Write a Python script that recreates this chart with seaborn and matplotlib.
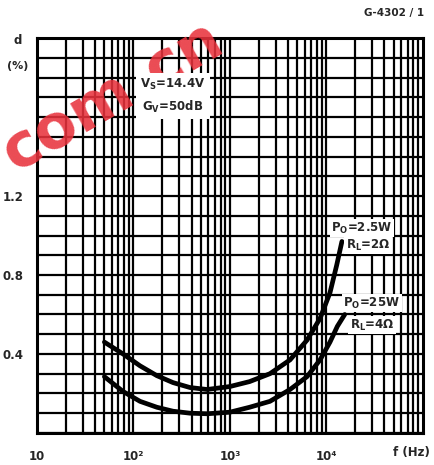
import numpy as np
import pandas as pd
import matplotlib
matplotlib.use("Agg")
import matplotlib.pyplot as plt
import seaborn as sns
from matplotlib.ticker import FixedLocator, MultipleLocator, NullFormatter

# ocitane vrijednosti s grafa (f u Hz, d u %)
freq_2ohm = [50, 78, 117, 175, 257, 385, 580, 1000, 1600, 2600, 4200, 6300, 8600, 10900, 12800, 14500]
d_2ohm = [0.46, 0.40, 0.34, 0.29, 0.255, 0.23, 0.22, 0.235, 0.26, 0.30, 0.37, 0.47, 0.58, 0.71, 0.85, 0.97]

freq_4ohm = [50, 78, 117, 175, 257, 385, 580, 1000, 1600, 2600, 4200, 6300, 8600, 10900, 13000, 15500]
d_4ohm = [0.285, 0.21, 0.16, 0.13, 0.11, 0.10, 0.097, 0.105, 0.13, 0.16, 0.22, 0.285, 0.37, 0.46, 0.54, 0.60]

x_ticks = [10, 100, 1000, 10000]
x_labels = ["10", "10²", "10³", "10⁴"]
y_ticks = [0.4, 0.8, 1.2]
y_labels = ["0.4", "0.8", "1.2"]

df = pd.concat([
    pd.DataFrame({"f": freq_2ohm, "d": d_2ohm, "load": "2"}),
    pd.DataFrame({"f": freq_4ohm, "d": d_4ohm, "load": "4"}),
])

sns.set_style("white")
plt.rcParams["font.family"] = ["DejaVu Sans"]
plt.rcParams["font.weight"] = "bold"
plt.rcParams["mathtext.fontset"] = "dejavusans"

fig = plt.figure(figsize=(4.35, 4.65), dpi=100)
ax = fig.add_axes([0.085, 0.069, 0.887, 0.849])

sns.lineplot(data=df, x="f", y="d", units="load", estimator=None,
             color="black", lw=3.4, ax=ax, zorder=5, sort=False)

ax.set_xscale("log")
ax.set_xlim(10, 1e5)
ax.set_ylim(0, 2.0)

ax.xaxis.set_major_locator(FixedLocator(x_ticks))
ax.set_xticklabels(x_labels)
ax.xaxis.set_minor_locator(FixedLocator([m * 10 ** e for e in range(1, 5) for m in range(2, 10)]))
ax.xaxis.set_minor_formatter(NullFormatter())
ax.yaxis.set_major_locator(FixedLocator(y_ticks))
ax.set_yticklabels(y_labels)
ax.yaxis.set_minor_locator(MultipleLocator(0.1))

ax.grid(True, which="both", color="black", lw=1.6)
ax.tick_params(which="both", length=0)
ax.tick_params(axis="x", pad=12, labelsize=8.5)
ax.tick_params(axis="y", pad=10, labelsize=8.5)
for s in ax.spines.values():
    s.set_color("black")
    s.set_linewidth(2.2)
ax.set_xlabel("")
ax.set_ylabel("")

# tekstovi
fig.text(0.04, 0.905, "d", fontsize=8.5, ha="center")
fig.text(0.04, 0.852, "(%)", fontsize=8, ha="center")
fig.text(0.945, 0.012, "f (Hz)", fontsize=8.5, ha="center", va="bottom")
fig.text(0.975, 0.965, "G-4302 / 1", fontsize=7.5, ha="right")

# vodeni zig
ax.text(0.258, 0.792, "com.cn", transform=fig.transFigure, fontsize=44, color="#e8323c",
        alpha=0.88, rotation=30, rotation_mode="anchor", ha="center", va="center",
        fontweight="bold", zorder=4, clip_on=False)

box = dict(facecolor="white", edgecolor="none", pad=3)
ax.text(0.352, 0.853, "$\\mathbf{V_S}$=14.4V\n$\\mathbf{G_V}$=50dB", transform=ax.transAxes,
        fontsize=8.5, ha="center", va="center", linespacing=1.6, bbox=box, zorder=6)
ax.text(0.842, 0.519, r"$\mathbf{P_O}$=2.5W", transform=ax.transAxes, fontsize=8.5,
        ha="center", va="center", bbox=dict(facecolor="white", edgecolor="none", pad=1), zorder=6)
ax.text(0.858, 0.476, r"$\mathbf{R_L}$=2Ω", transform=ax.transAxes, fontsize=8.5,
        ha="center", va="center", bbox=dict(facecolor="white", edgecolor="none", pad=1), zorder=6)
ax.text(0.868, 0.329, r"$\mathbf{P_O}$=25W", transform=ax.transAxes, fontsize=8.5,
        ha="center", va="center", bbox=dict(facecolor="white", edgecolor="none", pad=1), zorder=6)
ax.text(0.868, 0.273, r"$\mathbf{R_L}$=4Ω", transform=ax.transAxes, fontsize=8.5,
        ha="center", va="center", bbox=dict(facecolor="white", edgecolor="none", pad=1), zorder=6)

fig.savefig("out.png", dpi=100)
